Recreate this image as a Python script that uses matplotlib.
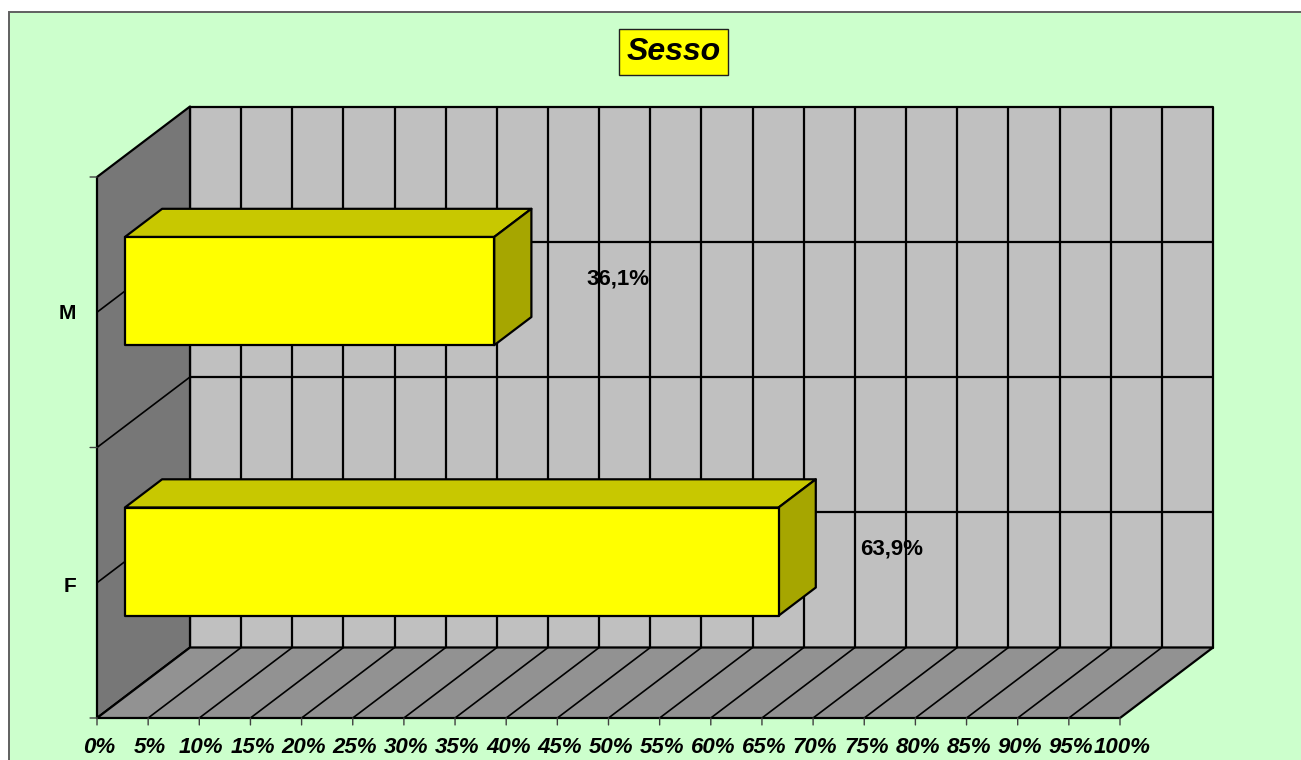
import matplotlib
matplotlib.use('Agg')
import matplotlib.pyplot as plt
from matplotlib.patches import Rectangle

categories = ['F', 'M']
values = [63.9, 36.1]
value_labels = ['63,9%', '36,1%']
x_ticks = list(range(0, 101, 5))
x_tick_labels = [f'{t}%' for t in x_ticks]
title = 'Sesso'

plt.rcParams['font.family'] = ['Liberation Sans', 'DejaVu Sans']

W, H = 1301, 760
DEPTH_X = 9.09   # depth of the 3d box, in percent units
DEPTH_Y = 0.2606  # depth of the 3d box, in category units


def proj(x, y, d=0.0):
    # move a point back along the depth of the box
    return x + DEPTH_X * d, y + DEPTH_Y * d


def poly(ax, pts, color, lw=1.6, z=2):
    xy = [proj(*p) for p in pts]
    ax.fill([p[0] for p in xy], [p[1] for p in xy], facecolor=color, edgecolor='black',
            linewidth=lw, clip_on=False, zorder=z, joinstyle='round')


def line(ax, a, b, lw=1.6, z=3):
    pa, pb = proj(*a), proj(*b)
    ax.plot([pa[0], pb[0]], [pa[1], pb[1]], color='black', lw=lw, clip_on=False, zorder=z,
            solid_capstyle='butt')


fig = plt.figure(figsize=(W / 100, H / 100), dpi=100, facecolor='white')

# green chart area, only left and top border fall inside the image
fig.add_artist(Rectangle((9 / W, -0.05), 1.1, 1.05 - 12 / H, transform=fig.transFigure,
                         facecolor='#CCFFCC', edgecolor='#606060', linewidth=1.4, zorder=-1))

ax = fig.add_axes([97 / W, (H - 718) / H, 1023 / W, 541 / H])
ax.set_xlim(0, 100)
ax.set_ylim(0, len(categories))
ax.axis('off')

ymax = len(categories)

# walls and floor
poly(ax, [(0, 0, 1), (100, 0, 1), (100, ymax, 1), (0, ymax, 1)], '#C0C0C0')
poly(ax, [(0, 0, 0), (0, 0, 1), (0, ymax, 1), (0, ymax, 0)], '#777777')
poly(ax, [(0, 0, 0), (100, 0, 0), (100, 0, 1), (0, 0, 1)], '#929292')

# grid
for t in x_ticks[1:-1]:
    line(ax, (t, 0, 1), (t, ymax, 1))
    line(ax, (t, 0, 0), (t, 0, 1), lw=1.2)
for i in range(1, 2 * len(categories)):
    y = i / 2
    line(ax, (0, y, 0), (0, y, 1), lw=1.2)
    line(ax, (0, y, 1), (100, y, 1))

# ticks
for t in x_ticks:
    ax.annotate('', xy=(t, 0), xytext=(0, -5), textcoords='offset points',
                arrowprops=dict(arrowstyle='-', color='#404040', lw=1, shrinkA=0, shrinkB=0),
                annotation_clip=False)
for y in range(len(categories) + 1):
    ax.annotate('', xy=(0, y), xytext=(-5, 0), textcoords='offset points',
                arrowprops=dict(arrowstyle='-', color='#404040', lw=1, shrinkA=0, shrinkB=0),
                annotation_clip=False)

# tick labels
for t, lab in zip(x_ticks, x_tick_labels):
    ax.annotate(lab, xy=(t, 0), xytext=(1.5, -21), textcoords='offset points', ha='center',
                va='center', fontsize=16, fontweight='bold', fontstyle='italic',
                annotation_clip=False)

# bars
BAR_H = 0.4
label_offsets = [(81.5, 9), (89, 8.5)]
cat_label_dy = [-2.5, -1.2]
for i, (cat, val, lab) in enumerate(zip(categories, values, value_labels)):
    y0 = i + 0.5 - BAR_H / 2
    y1 = i + 0.5 + BAR_H / 2
    poly(ax, [(0, y1, 0.3), (val, y1, 0.3), (val, y1, 0.7), (0, y1, 0.7)], '#C8C800', z=5)
    poly(ax, [(val, y0, 0.3), (val, y0, 0.7), (val, y1, 0.7), (val, y1, 0.3)], '#A6A600', z=5)
    poly(ax, [(0, y0, 0.3), (val, y0, 0.3), (val, y1, 0.3), (0, y1, 0.3)], '#FFFF00', z=6)
    ax.annotate(cat, xy=(0, i + 0.5), xytext=(-15.2, cat_label_dy[i]), textcoords='offset points',
                ha='right', va='center', fontsize=15, fontweight='bold', annotation_clip=False)
    ax.annotate(lab, xy=proj(val, i + 0.5, 0.3), xytext=label_offsets[i], textcoords='offset points',
                ha='center', va='center', fontsize=16, fontweight='bold', zorder=8,
                annotation_clip=False)

fig.text(673.5 / W, (H - 52) / H, title, ha='center', va='center', fontsize=23, fontweight='bold',
         fontstyle='italic',
         bbox=dict(boxstyle='square,pad=0.24', facecolor='#FFFF00', edgecolor='#202020', linewidth=1))

fig.savefig('out.png', dpi=100, facecolor='white')
